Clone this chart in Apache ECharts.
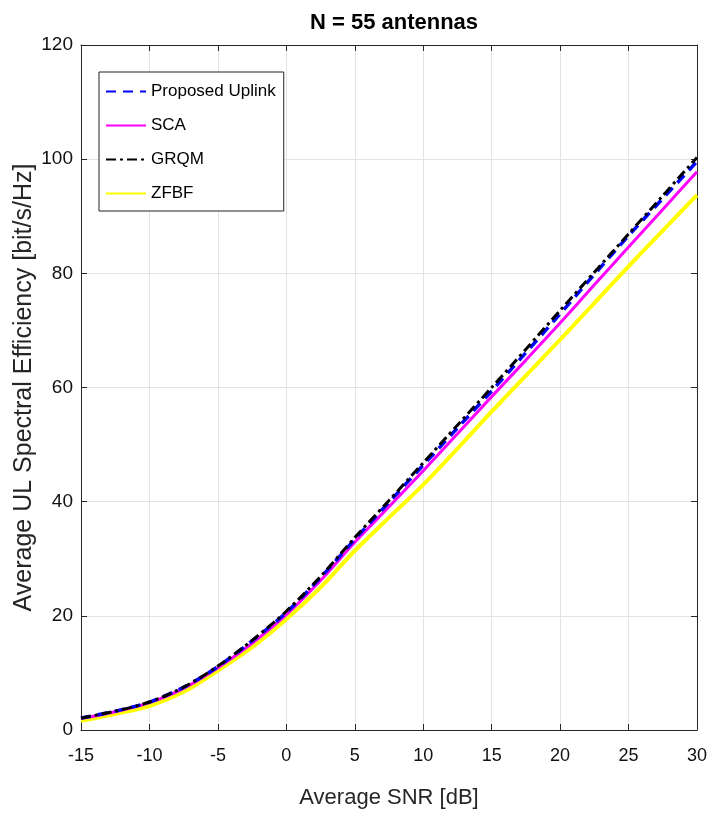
<!DOCTYPE html>
<html>
<head>
<meta charset="utf-8">
<title>N = 55 antennas</title>
<script src="https://cdn.jsdelivr.net/npm/echarts@6/dist/echarts.min.js"></script>
<style>
  html, body { margin: 0; padding: 0; background: #fff; }
  #chart { width: 710px; height: 815px; }
</style>
</head>
<body>
<div id="chart"></div>
<script>
// Average SNR [dB]
const snr = [-15, -12.5, -10, -7.5, -5, -2.5, 0, 2.5, 5, 7.5, 10, 12.5, 15, 17.5, 20, 22.5, 25, 27.5, 30];

// Average UL spectral efficiency [bit/s/Hz] for each scheme
const proposedUplink = [2.1, 3.3, 4.9, 7.5, 11.1, 15.6, 20.6, 26.7, 33.4, 39.9, 46.4, 52.9, 59.4, 66.1, 72.9, 79.8, 86.6, 93.1, 99.6];
const sca            = [2.0, 3.2, 4.8, 7.3, 10.9, 15.2, 20.2, 26.2, 32.9, 39.1, 45.4, 51.9, 58.4, 64.8, 71.3, 78.0, 84.6, 91.2, 97.8];
const grqm           = [2.1, 3.3, 4.9, 7.5, 11.2, 15.7, 20.8, 26.9, 33.7, 40.2, 46.8, 53.4, 60.0, 66.7, 73.5, 80.2, 86.9, 93.6, 100.3];
const zfbf           = [1.6, 2.8, 4.2, 6.7, 10.4, 14.5, 19.4, 25.0, 31.4, 37.2, 43.0, 49.3, 55.8, 62.1, 68.4, 74.8, 81.2, 87.5, 93.7];

const xTicks = { min: -15, max: 30, step: 5 };
const yTicks = { min: 0, max: 120, step: 20 };

const titleText = 'N = 55 antennas';
const xName = 'Average SNR [dB]';
const yName = 'Average UL Spectral Efficiency [bit/s/Hz]';

const font = "'Liberation Sans', Arial, sans-serif";
const ink = '#262626';

const pairs = ys => snr.map((x, i) => [x, ys[i]]);

const chart = echarts.init(document.getElementById('chart'), null, { renderer: 'canvas' });

const axisCommon = {
  axisLine: { show: true, onZero: false, lineStyle: { color: ink, width: 1 } },
  axisTick: { show: true, inside: true, length: 6, lineStyle: { color: ink, width: 1 } },
};

chart.setOption({
  animation: false,
  backgroundColor: '#fff',
  title: {
    text: titleText,
    left: 389, top: 7, textAlign: 'center',
    textStyle: { fontFamily: font, fontWeight: 'bold', fontSize: 22, color: '#000' }
  },
  grid: { left: 81, right: 13, top: 45, bottom: 85, containLabel: false, outerBoundsMode: 'none' },
  legend: {
    left: 99, top: 72,
    orient: 'vertical',
    data: ['Proposed Uplink', 'SCA', 'GRQM', 'ZFBF'],
    backgroundColor: '#fff',
    borderColor: '#222', borderWidth: 1,
    padding: [11, 8, 9, 6],
    itemGap: 17,
    itemWidth: 40, itemHeight: 20,
    itemStyle: { opacity: 0 },
    textStyle: { fontFamily: font, fontSize: 17, color: '#000' }
  },
  xAxis: [
    Object.assign({
      type: 'value', position: 'bottom',
      min: xTicks.min, max: xTicks.max, interval: xTicks.step,
      name: xName, nameLocation: 'middle', nameGap: 57,
      nameTextStyle: { fontFamily: font, fontSize: 22, color: ink },
      axisLabel: { fontFamily: font, fontSize: 18, color: '#111', margin: 17 },
      splitLine: { show: true, lineStyle: { color: '#e3e3e3', width: 1 } }
    }, axisCommon),
    Object.assign({
      type: 'value', position: 'top',
      min: xTicks.min, max: xTicks.max, interval: xTicks.step,
      axisLabel: { show: false }, splitLine: { show: false }
    }, axisCommon)
  ],
  yAxis: [
    Object.assign({
      type: 'value', position: 'left',
      min: yTicks.min, max: yTicks.max, interval: yTicks.step,
      name: yName, nameLocation: 'middle', nameGap: 44, nameMoveOverlap: false,
      nameTextStyle: { fontFamily: font, fontSize: 25, color: ink },
      axisLabel: { fontFamily: font, fontSize: 19, color: '#111', margin: 8 },
      splitLine: { show: true, lineStyle: { color: '#e3e3e3', width: 1 } }
    }, axisCommon),
    Object.assign({
      type: 'value', position: 'right',
      min: yTicks.min, max: yTicks.max, interval: yTicks.step,
      axisLabel: { show: false }, splitLine: { show: false }
    }, axisCommon)
  ],
  series: [
    {
      name: 'ZFBF', type: 'line', data: pairs(zfbf), smooth: 0.3,
      showSymbol: false, symbol: 'none', z: 1,
      lineStyle: { color: '#ffff00', width: 4 }, itemStyle: { color: '#ffff00' }
    },
    {
      name: 'SCA', type: 'line', data: pairs(sca), smooth: 0.3,
      showSymbol: false, symbol: 'none', z: 2,
      lineStyle: { color: '#ff00ff', width: 3 }, itemStyle: { color: '#ff00ff' }
    },
    {
      name: 'Proposed Uplink', type: 'line', data: pairs(proposedUplink), smooth: 0.3,
      showSymbol: false, symbol: 'none', z: 3,
      lineStyle: { color: '#0000ff', width: 3.5, type: [10, 7] }, itemStyle: { color: '#0000ff' }
    },
    {
      name: 'GRQM', type: 'line', data: pairs(grqm), smooth: 0.3,
      showSymbol: false, symbol: 'none', z: 4,
      lineStyle: { color: '#000000', width: 3, type: [10, 4, 3, 4] }, itemStyle: { color: '#000000' }
    }
  ]
});
</script>
</body>
</html>
